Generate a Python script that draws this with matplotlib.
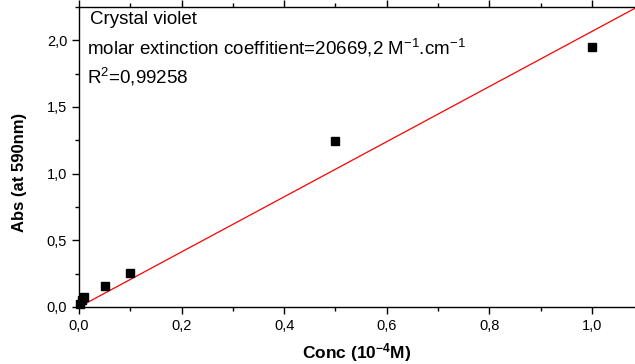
import matplotlib
matplotlib.use('Agg')
import matplotlib.pyplot as plt
import numpy as np
from matplotlib.ticker import FuncFormatter, MultipleLocator

#************************************
# Data
#************************************
conc = [0.001, 0.005, 0.01, 0.05, 0.1, 0.5, 1.0]
absorb = [0.02, 0.05, 0.075, 0.16, 0.255, 1.245, 1.95]
slope = 2.06692
fitX = [0.0, 1.1]

plt.rcParams['font.family'] = ['Liberation Sans', 'DejaVu Sans']
plt.rcParams['mathtext.fontset'] = 'custom'
plt.rcParams['mathtext.rm'] = 'Liberation Sans'
plt.rcParams['mathtext.it'] = 'Liberation Sans:italic'
plt.rcParams['mathtext.bf'] = 'Liberation Sans:bold'

fig = plt.figure(figsize=(6.35, 3.64), dpi=100)
ax = fig.add_axes([79/635, 1-307/364, 1-79/635, 300/364])

ax.plot(fitX, [slope*x for x in fitX], color='red', lw=0.9)
ax.plot(conc, absorb, 's', color='black', ms=5.5, clip_on=False)

ax.set_xlim(0, 1.084)
ax.set_ylim(0, 2.25)
ax.xaxis.set_major_locator(MultipleLocator(0.2))
ax.xaxis.set_minor_locator(MultipleLocator(0.1))
ax.yaxis.set_major_locator(MultipleLocator(0.5))
ax.yaxis.set_minor_locator(MultipleLocator(0.25))
comma = FuncFormatter(lambda v, p: ('%.1f' % v).replace('.', ','))
ax.xaxis.set_major_formatter(comma)
ax.yaxis.set_major_formatter(comma)
ax.tick_params(which='both', direction='out', top=True, right=False, width=1.0, labelsize=10.5)
ax.tick_params(which='major', length=5)
ax.tick_params(which='minor', length=3)
ax.spines['right'].set_visible(False)
for s in ['left', 'bottom', 'top']:
    ax.spines[s].set_linewidth(1.0)

ax.set_xlabel(r'Conc (10$^{\mathbf{-4}}$M)', fontsize=12.5, fontweight='bold')
ax.xaxis.set_label_coords(0.5, -0.115)
ax.set_ylabel('Abs (at 590nm)', fontsize=12, fontweight='bold')
ax.yaxis.set_label_coords(-0.093, 0.45)

ax.text(0.021, 2.153, 'Crystal violet', fontsize=13.5, va='center')
ax.text(0.0156, 1.943, r'molar extinction coeffitient=20669,2 M$^{-1}$.cm$^{-1}$', fontsize=13.5, va='center')
ax.text(0.0156, 1.725, r'R$^{2}$=0,99258', fontsize=13.5, va='center')

fig.savefig('out.png', dpi=100)
